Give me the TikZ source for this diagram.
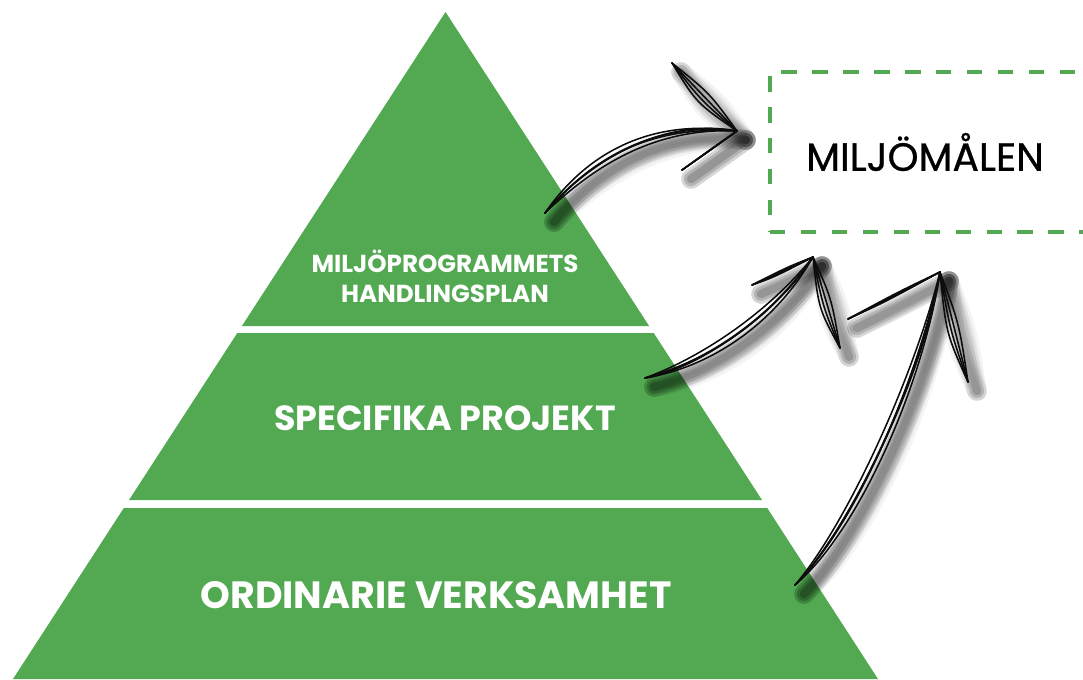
\documentclass[tikz,border=0pt]{standalone}
\usepackage{fontspec}
\setmainfont{Poppins}
\newfontfamily\goalfont{Poppins}[FakeBold=0.8]
\usetikzlibrary{calc, positioning}
\definecolor{LeafGreen}{RGB}{82, 169, 82}
\definecolor{InkBlack}{RGB}{12, 12, 12}

% hand drawn arrow: a few loose strands
\newcommand{\sketchshaft}[4]{%
  \foreach \dx/\dy in {0/0, 5/-4, -4/5, 7/3, -3/-6}{
    \draw (#1) .. controls ($(#2)+(\dx,\dy)$) and ($(#3)+(\dy,\dx)$) .. (#4);
  }}
\newcommand{\sketchbarb}[2]{%
  \foreach \bx/\by in {-8/6, -4/3, 0/0, 5/-4}{
    \draw (#1) .. controls ($(#1)!0.5!(#2)+(\bx,\by)$) .. (#2);
  }}
\newcommand{\allarrows}{%
  \sketchshaft{s1}{585,165}{650,120}{t1}
  \sketchbarb{t1}{b1a} \sketchbarb{t1}{b1b}
  \sketchshaft{s2}{700,365}{770,320}{t2}
  \sketchbarb{t2}{b2a} \sketchbarb{t2}{b2b}
  \sketchshaft{s3}{850,530}{920,380}{t3}
  \sketchbarb{t3}{b3a} \sketchbarb{t3}{b3b}}

\begin{document}
\begin{tikzpicture}[x=0.025cm, y=-0.025cm,
    band/.style={fill=LeafGreen},
    bandtext/.style={text=white, align=center},
    goalbox/.style={draw=LeafGreen, line width=2.6pt, dash pattern=on 11pt off 11pt,
      minimum width=8cm, minimum height=4cm},
    ink/.style={draw=InkBlack, line width=1.1pt, line cap=round},
    inkshadow/.style={draw=black, opacity=0.045, line cap=round}]
    \useasboundingbox (0,0) rectangle (1083,679);

    % Pyramid
    \fill[band] (445.5,12) -- (649.1,326) -- (241.9,326) -- cycle;
    \fill[band] (237.3,333) -- (653.7,333) -- (762,500) -- (129,500) -- cycle;
    \fill[band] (123.8,508) -- (767.2,508) -- (878,679) -- (13,679) -- cycle;
    \node[bandtext, font=\bfseries\fontsize{17.5}{21.5}\selectfont] (plan) at (445,276) {MILJÖPROGRAMMETS\\HANDLINGSPLAN};
    \node[bandtext, font=\bfseries\fontsize{24.8}{28}\selectfont] (proj) at (445,418) {SPECIFIKA PROJEKT};
    \node[bandtext, font=\bfseries\fontsize{27}{30}\selectfont] (ordi) at (436,595) {ORDINARIE VERKSAMHET};

    % Goal
    \node[goalbox] (goal) at (930,152) {};
    \node[font=\goalfont\fontsize{28}{32}\selectfont] (goaltext) at (925,152) {MILJÖMÅLEN};

    % Arrow ends
    \coordinate (s1) at (545,213);  \coordinate (t1) at (737,131);
    \coordinate (b1a) at (672,63);  \coordinate (b1b) at (682,170);
    \coordinate (s2) at (645,378);  \coordinate (t2) at (813,257);
    \coordinate (b2a) at (752,285); \coordinate (b2b) at (840,348);
    \coordinate (s3) at (795,585);  \coordinate (t3) at (940,272);
    \coordinate (b3a) at (848,319); \coordinate (b3b) at (968,382);

    % Shadows
    \foreach \w in {14,10,6}{
      \begin{scope}[transform canvas={shift={(9,9)}}, inkshadow, line width=\w pt]
        \allarrows
      \end{scope}
    }
    % Ink
    \begin{scope}[ink]
      \allarrows
    \end{scope}
\end{tikzpicture}
\end{document}
